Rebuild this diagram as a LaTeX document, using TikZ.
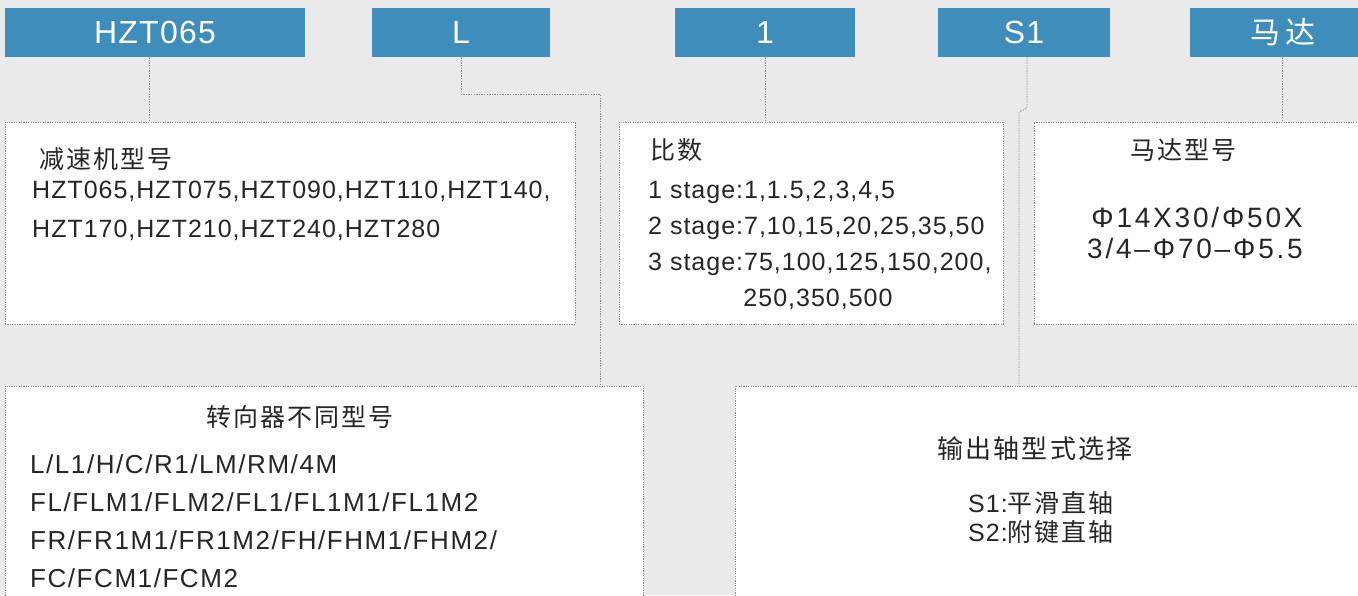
\documentclass[tikz,border=0pt]{standalone}
\usepackage{fontspec}
\setmainfont{Liberation Sans}
\newfontfamily\cjk[LetterSpace=8]{Noto Sans CJK SC}
\newfontfamily\cjkt[LetterSpace=15]{Noto Sans CJK SC}
\newfontfamily\lat[LetterSpace=4]{Liberation Sans}
\newfontfamily\latb[LetterSpace=6]{Liberation Sans}
\newfontfamily\latwide[LetterSpace=10]{Liberation Sans}
\newfontfamily\toplat[LetterSpace=4]{Liberation Sans}
\definecolor{bg}{HTML}{EBEAEA}
\definecolor{blu}{HTML}{3F8DBA}
\definecolor{txt}{HTML}{262626}
\definecolor{dotc}{HTML}{8C8C8C}
\tikzset{
  topbox/.style={fill=blu, draw=none, text=white, minimum height=49pt, inner sep=0pt,
    font=\toplat\fontsize{32}{32}\selectfont},
  wbox/.style={fill=white, draw=dotc, line width=0.8pt, dash pattern=on 1.2pt off 1.2pt,
    inner sep=0pt, minimum height=202pt},
  conn/.style={draw=dotc, line width=0.9pt, dash pattern=on 1.3pt off 1.3pt},
  head/.style={inner sep=0pt, text=txt, font=\cjk\fontsize{25}{25}\selectfont},
  body/.style={inner sep=0pt, text=txt, font=\lat\fontsize{25}{25}\selectfont},
  bodyb/.style={inner sep=0pt, text=txt, font=\latb\fontsize{26}{26}\selectfont},
}
\begin{document}
\begin{tikzpicture}[x=1pt,y=-1pt]
\clip (0,0) rectangle (1358,595);
\fill[bg] (0,0) rectangle (1358,595);

% top labels
\node[topbox, minimum width=300pt] (hzt) at (155,32.5) {HZT065};
\node[topbox, minimum width=178pt] (lbox) at (461,32.5) {L};
\node[topbox, minimum width=180pt] (one) at (765,32.5) {1};
\node[topbox, minimum width=172pt] (s1) at (1024,32.5) {S1};
\node[topbox, minimum width=186pt, font=\cjkt\fontsize{30}{30}\selectfont] (motor) at (1283,32.5) {马达};

% white boxes
\node[wbox, minimum width=570pt] (b1) at (290,223) {};
\node[wbox, minimum width=384pt] (b2) at (811,223) {};
\node[wbox, minimum width=346pt] (b3) at (1207,223) {};
\node[wbox, minimum width=638pt, minimum height=234pt] (b4) at (324,503) {};
\node[wbox, minimum width=645pt, minimum height=234pt] (b5) at (1057.5,503) {};

% connectors
\draw[conn] ([xshift=-6pt]hzt.south) -- ([xshift=-6pt]hzt.south |- b1.north);
\coordinate (lx) at (600,94);
\draw[conn] (lbox.south) |- (lx) -- (lx |- b4.north);
\draw[conn] (one.south) -- (one.south |- b2.north);
\coordinate (sj) at (1019,112);
\draw[conn] ([xshift=3pt]s1.south) -- ++(0,51) -- (sj) -- (sj |- b5.north);
\draw[conn] ([xshift=-1pt]motor.south) -- ([xshift=-1pt]motor.south |- b3.north);

% box 1
\node[head, anchor=base west] (b1h) at (39,168) {减速机型号};
\node[body, anchor=base west] (b1a) at (32,198) {HZT065,HZT075,HZT090,HZT110,HZT140,};
\node[body, anchor=base west] (b1b) at (32,237) {HZT170,HZT210,HZT240,HZT280};

% box 2
\node[head, anchor=base west] (b2h) at (650,159) {比数};
\node[body, anchor=base west] (b2a) at (648,198) {1 stage:1,1.5,2,3,4,5};
\node[body, anchor=base west] (b2b) at (648,234.5) {2 stage:7,10,15,20,25,35,50};
\node[body, anchor=base west] (b2c) at (648,270) {3 stage:75,100,125,150,200,};
\node[body, anchor=base] (b2d) at (818,306.5) {250,350,500};

% box 3
\node[head, anchor=base] (b3h) at (1183,159) {马达型号};
\node[body, font=\latwide\fontsize{28}{28}\selectfont, anchor=base] (b3a) at (1197,227) {Φ14X30/Φ50X};
\node[body, font=\latwide\fontsize{28}{28}\selectfont, anchor=base] (b3b) at (1195,258) {3/4–Φ70–Φ5.5};

% box 4
\node[head, anchor=base] (b4h) at (300,426) {转向器不同型号};
\node[bodyb, anchor=base west] (b4a) at (30,473) {L/L1/H/C/R1/LM/RM/4M};
\node[bodyb, anchor=base west] (b4b) at (30,511) {FL/FLM1/FLM2/FL1/FL1M1/FL1M2};
\node[bodyb, anchor=base west] (b4c) at (30,549) {FR/FR1M1/FR1M2/FH/FHM1/FHM2/};
\node[bodyb, anchor=base west] (b4d) at (30,587) {FC/FCM1/FCM2};

% box 5
\node[head, font=\cjk\fontsize{26}{26}\selectfont, anchor=base] (b5h) at (1035,458) {输出轴型式选择};
\node[body, anchor=base west] (b5a) at (968,512) {S1:{\cjk 平滑直轴}};
\node[body, anchor=base west] (b5b) at (968,541) {S2:{\cjk 附键直轴}};
\end{tikzpicture}
\end{document}
